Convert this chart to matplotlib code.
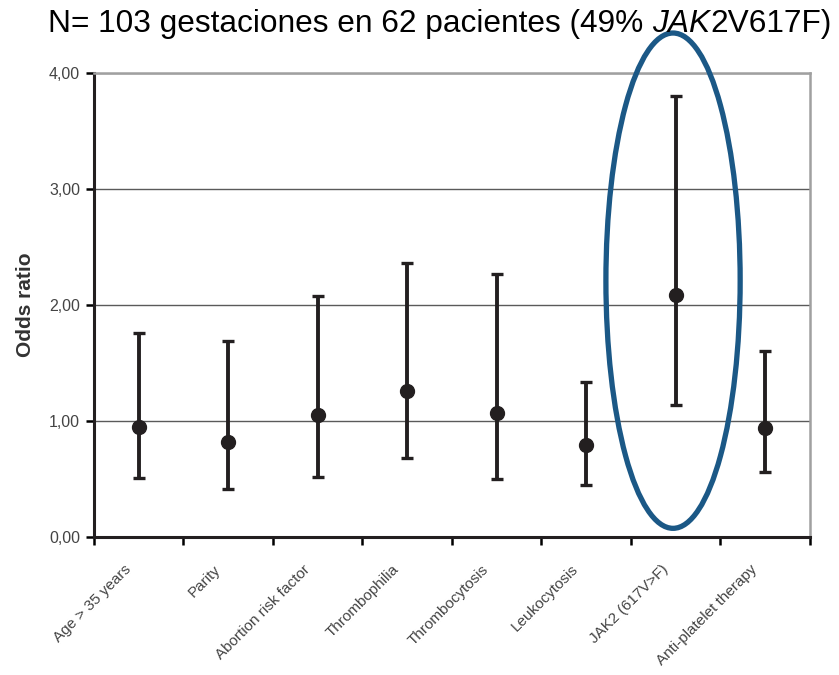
import matplotlib
matplotlib.use('Agg')
import matplotlib.pyplot as plt
import matplotlib.transforms as mtransforms
from matplotlib.patches import Ellipse
import numpy as np

plt.rcParams['font.family'] = ['Liberation Sans', 'DejaVu Sans']

factors = ['Age > 35 years', 'Parity', 'Abortion risk factor', 'Thrombophilia',
           'Thrombocytosis', 'Leukocytosis', 'JAK2 (617V>F)',
           'Anti-platelet therapy']
odds   = [0.95, 0.82, 1.05, 1.26, 1.07, 0.79, 2.09, 0.94]
ci_low = [0.51, 0.41, 0.52, 0.68, 0.50, 0.45, 1.14, 0.56]
ci_up  = [1.76, 1.69, 2.08, 2.36, 2.27, 1.34, 3.80, 1.60]
yticks = [0, 1, 2, 3, 4]

odds = np.array(odds)
err = [odds - np.array(ci_low), np.array(ci_up) - odds]
x = np.arange(len(factors))

fig = plt.figure(figsize=(8.39, 6.75), dpi=100)
ax = fig.add_axes([0.112, 0.2044, 0.8534, 0.6874])

ax.errorbar(x, odds, yerr=err, fmt='o', color='#231f20', ms=10, lw=2.8,
            capsize=4.5, capthick=2.4, zorder=3)

ax.set_xlim(-0.5, len(factors) - 0.5)
ax.set_ylim(0, 4)
ax.set_yticks(yticks)
ax.set_yticklabels([('%.2f' % v).replace('.', ',') for v in yticks])
ax.yaxis.grid(True, color='#5a5a5a', lw=1)
ax.set_axisbelow(True)

# tick marks sit on the category boundaries, labels are slanted under each centre
ax.set_xticks(np.arange(len(factors) + 1) - 0.5)
ax.set_xticklabels([])
ax.tick_params(axis='x', length=6, width=1.8, direction='out')
lab_shift = mtransforms.ScaledTranslation(-0.15, -0.25, fig.dpi_scale_trans)
for i, name in enumerate(factors):
    ax.text(i, 0, name, transform=ax.get_xaxis_transform() + lab_shift,
            rotation=45, ha='right', va='top', rotation_mode='anchor',
            fontsize=11, color='#444444')

ax.tick_params(axis='y', length=6, width=1.8, direction='out', pad=4,
               labelsize=11.5, labelcolor='#444444')

for s in ['left', 'bottom']:
    ax.spines[s].set_linewidth(2.2)
    ax.spines[s].set_color('#231f20')
for s in ['top', 'right']:
    ax.spines[s].set_linewidth(1.8)
    ax.spines[s].set_color('#a0a0a0')

ax.set_ylabel('Odds ratio', fontsize=15, fontweight='bold', color='#333333', labelpad=10)

# highlight the JAK2 estimate
ax.add_patch(Ellipse((5.97, 2.21), 1.5, 4.27, fill=False, ec='#1b5886', lw=3.8,
                     clip_on=False, zorder=4))

# title in three pieces so that JAK is set in italics
ty = 1 - 32 / 675
t1 = fig.text(48 / 839, ty, 'N= 103 gestaciones en 62 pacientes (49% ',
              fontsize=22.8, ha='left', va='baseline', color='black')
t2 = fig.text(0, ty, 'JAK', fontsize=22.8, style='italic', va='baseline', color='black')
t3 = fig.text(0, ty, '2V617F)', fontsize=22.8, va='baseline', color='black')
fig.canvas.draw()
r = fig.canvas.get_renderer()
t2.set_x(t1.get_window_extent(r).x1 / fig.bbox.width)
t3.set_x(t2.get_window_extent(r).x1 / fig.bbox.width)

fig.savefig('out.png', dpi=100)
